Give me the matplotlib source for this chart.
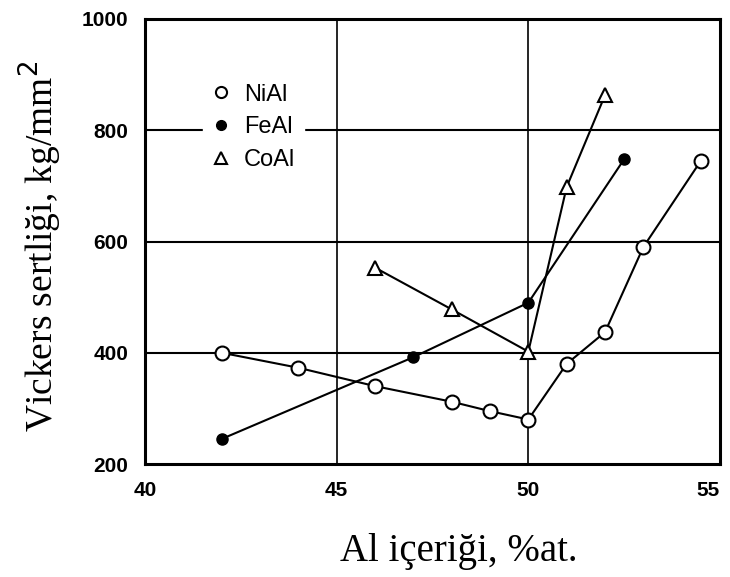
import matplotlib
matplotlib.use("Agg")
import matplotlib.pyplot as plt
from matplotlib.lines import Line2D

# Data
nial_x = [42, 44, 46, 48, 49, 50, 51, 52, 53, 54.5]
nial_y = [400, 373, 340, 312, 295, 280, 380, 437, 590, 745]
feal_x = [42, 47, 50, 52.5]
feal_y = [245, 392, 490, 748]
coal_x = [46, 48, 50, 51, 52]
coal_y = [553, 478, 402, 698, 863]
xticks = [40, 45, 50, 55]
yticks = [200, 400, 600, 800, 1000]
labels = ["NiAl", "FeAl", "CoAl"]

fig = plt.figure(figsize=(7.3, 5.77), dpi=100)
ax = fig.add_axes([145/730, 1-464/577, 575/730, 445/577])

tickfont = dict(family=['Liberation Sans', 'DejaVu Sans'], weight='bold', size=15)

# grid lines
for gx in [45, 50]:
    ax.axvline(gx, color='black', lw=1.2, zorder=1)
for gy in [400, 600, 800]:
    ax.axhline(gy, color='black', lw=1.5, zorder=1)

ax.plot(nial_x, nial_y, '-', color='black', lw=1.5, marker='o', ms=10,
        mfc='white', mec='black', mew=1.5, zorder=3)
ax.plot(feal_x, feal_y, '-', color='black', lw=1.5, marker='o', ms=8,
        mfc='black', mec='black', zorder=3)
ax.plot(coal_x, coal_y, '-', color='black', lw=1.5, marker='^', ms=10,
        mfc='white', mec='black', mew=1.5, zorder=3)

ax.set_xlim(40, 55)
ax.set_ylim(200, 1000)
ax.set_xticks(xticks)
ax.set_yticks(yticks)
ax.set_xticklabels([str(t) for t in xticks], fontdict=tickfont)
ax.set_yticklabels([str(t) for t in yticks], fontdict=tickfont)
ax.get_xticklabels()[-1].set_ha('right')
ax.tick_params(length=0, pad=12)
ax.tick_params(axis='x', pad=12)
for sp in ax.spines.values():
    sp.set_linewidth(2.2)

handles = [
    Line2D([], [], ls='none', marker='o', ms=8, mfc='white', mec='black', mew=1.5),
    Line2D([], [], ls='none', marker='o', ms=7, mfc='black', mec='black'),
    Line2D([], [], ls='none', marker='^', ms=8, mfc='white', mec='black', mew=1.5),
]
leg = ax.legend(handles, labels, loc='upper left', bbox_to_anchor=(0.08, 0.9),
                frameon=True, fancybox=False, edgecolor='white', facecolor='white',
                framealpha=1, handlelength=0.8, handletextpad=0.6, labelspacing=0.45,
                borderpad=0.35, prop=dict(family=['Liberation Sans', 'DejaVu Sans'], size=17))
leg.set_zorder(2)

ax.set_xlabel("Al içeriği, %at.", family=['Liberation Serif', 'DejaVu Serif'], size=28)
ax.xaxis.set_label_coords(0.545, -0.155)
ax.set_ylabel("Vickers sertliği, kg/mm$^2$", family=['Liberation Serif', 'DejaVu Serif'], size=27)
ax.yaxis.set_label_coords(-0.14, 0.49)

fig.savefig("out.png", dpi=100)
